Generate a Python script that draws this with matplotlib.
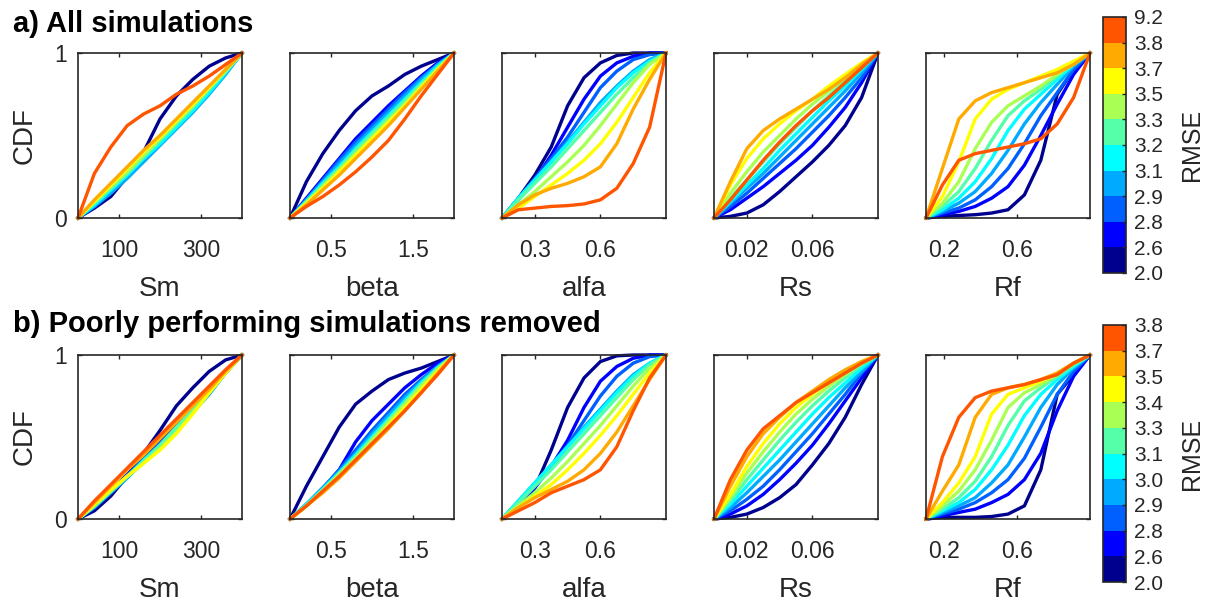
import matplotlib
matplotlib.use("Agg")
import matplotlib.pyplot as plt
from matplotlib.colors import ListedColormap, BoundaryNorm
import matplotlib.colorbar as mcolorbar

plt.rcParams["font.family"] = ["Liberation Sans", "DejaVu Sans"]

W, H = 1209, 601
DARK = (0.15, 0.15, 0.15)

# RMSE class colours (lowest -> highest)
colors = ["#00008F", "#0000FF", "#0060FF", "#00AAFF", "#00FFFF",
          "#55FFAA", "#AAFF55", "#FFFF00", "#FFAA00", "#FF5500"]

rmse_a = ["2.0", "2.6", "2.8", "2.9", "3.1", "3.2", "3.3", "3.5", "3.7", "3.8", "9.2"]
rmse_b = ["2.0", "2.6", "2.8", "2.9", "3.0", "3.1", "3.3", "3.4", "3.5", "3.7", "3.8"]

params = ["Sm", "beta", "alfa", "Rs", "Rf"]

# parameter values where the CDFs were read
x_sm = [0, 40, 80, 120, 160, 200, 240, 280, 320, 360, 400]
x_beta = [0, 0.2, 0.4, 0.6, 0.8, 1.0, 1.2, 1.4, 1.6, 1.8, 2.0]
x_alfa = [0.15, 0.225, 0.3, 0.375, 0.45, 0.525, 0.6, 0.675, 0.75, 0.825, 0.9]
x_rs = [0, 0.01, 0.02, 0.03, 0.04, 0.05, 0.06, 0.07, 0.08, 0.09, 0.1]
x_rf = [0.1, 0.19, 0.28, 0.37, 0.46, 0.55, 0.64, 0.73, 0.82, 0.91, 1.0]

xlims = [(0, 400), (0, 2), (0.15, 0.9), (0, 0.1), (0.1, 1.0)]
xticks = [[100, 300], [0.5, 1.5], [0.3, 0.6], [0.02, 0.06], [0.2, 0.6]]
xticklabels = [["100", "300"], ["0.5", "1.5"], ["0.3", "0.6"], ["0.02", "0.06"], ["0.2", "0.6"]]

# interior CDF values (ends are 0 and 1), one row per RMSE class
# a) all simulations
a_sm = [
    [0.06, 0.13, 0.25, 0.40, 0.60, 0.74, 0.84, 0.92, 0.97],
    [0.07, 0.16, 0.25, 0.35, 0.46, 0.57, 0.67, 0.78, 0.89],
    [0.08, 0.16, 0.26, 0.36, 0.46, 0.56, 0.66, 0.77, 0.88],
    [0.07, 0.15, 0.24, 0.34, 0.44, 0.54, 0.64, 0.75, 0.87],
    [0.08, 0.17, 0.26, 0.36, 0.45, 0.55, 0.65, 0.76, 0.88],
    [0.09, 0.18, 0.27, 0.37, 0.47, 0.57, 0.67, 0.78, 0.89],
    [0.10, 0.19, 0.28, 0.38, 0.48, 0.58, 0.68, 0.79, 0.89],
    [0.10, 0.20, 0.30, 0.40, 0.49, 0.59, 0.69, 0.79, 0.90],
    [0.11, 0.21, 0.31, 0.41, 0.50, 0.60, 0.70, 0.80, 0.90],
    [0.27, 0.43, 0.56, 0.63, 0.68, 0.75, 0.80, 0.86, 0.93],
]
a_beta = [
    [0.22, 0.39, 0.53, 0.65, 0.74, 0.80, 0.87, 0.92, 0.96],
    [0.12, 0.24, 0.36, 0.48, 0.58, 0.68, 0.77, 0.86, 0.94],
    [0.11, 0.23, 0.35, 0.46, 0.56, 0.66, 0.76, 0.85, 0.93],
    [0.11, 0.22, 0.33, 0.44, 0.54, 0.64, 0.74, 0.84, 0.93],
    [0.10, 0.21, 0.31, 0.42, 0.52, 0.62, 0.72, 0.82, 0.92],
    [0.10, 0.20, 0.30, 0.41, 0.51, 0.61, 0.71, 0.81, 0.91],
    [0.09, 0.19, 0.29, 0.39, 0.49, 0.59, 0.69, 0.80, 0.90],
    [0.09, 0.18, 0.28, 0.38, 0.48, 0.58, 0.68, 0.79, 0.90],
    [0.08, 0.17, 0.26, 0.36, 0.46, 0.56, 0.67, 0.78, 0.89],
    [0.07, 0.13, 0.20, 0.28, 0.37, 0.47, 0.60, 0.74, 0.87],
]
a_alfa = [
    [0.12, 0.26, 0.43, 0.68, 0.85, 0.94, 0.985, 1.0, 1.0],
    [0.11, 0.23, 0.38, 0.55, 0.72, 0.86, 0.94, 0.98, 1.0],
    [0.12, 0.24, 0.36, 0.49, 0.64, 0.79, 0.89, 0.96, 0.99],
    [0.12, 0.23, 0.34, 0.46, 0.58, 0.70, 0.80, 0.89, 0.96],
    [0.12, 0.23, 0.34, 0.45, 0.57, 0.68, 0.79, 0.88, 0.95],
    [0.11, 0.21, 0.31, 0.42, 0.53, 0.64, 0.75, 0.85, 0.94],
    [0.08, 0.16, 0.25, 0.34, 0.44, 0.56, 0.69, 0.82, 0.93],
    [0.06, 0.13, 0.20, 0.27, 0.35, 0.45, 0.58, 0.73, 0.88],
    [0.08, 0.14, 0.18, 0.21, 0.25, 0.31, 0.45, 0.66, 0.84],
    [0.05, 0.06, 0.07, 0.075, 0.085, 0.11, 0.18, 0.33, 0.55],
]
a_rs = [
    [0.01, 0.03, 0.08, 0.16, 0.25, 0.34, 0.44, 0.56, 0.73],
    [0.05, 0.12, 0.19, 0.27, 0.35, 0.44, 0.55, 0.67, 0.82],
    [0.07, 0.15, 0.24, 0.33, 0.42, 0.52, 0.62, 0.73, 0.85],
    [0.09, 0.18, 0.27, 0.37, 0.47, 0.57, 0.67, 0.77, 0.88],
    [0.10, 0.20, 0.30, 0.41, 0.51, 0.61, 0.71, 0.80, 0.90],
    [0.12, 0.23, 0.34, 0.45, 0.55, 0.65, 0.74, 0.83, 0.92],
    [0.15, 0.28, 0.40, 0.50, 0.60, 0.69, 0.77, 0.85, 0.93],
    [0.20, 0.36, 0.48, 0.57, 0.65, 0.72, 0.80, 0.87, 0.94],
    [0.22, 0.42, 0.53, 0.60, 0.66, 0.72, 0.78, 0.85, 0.93],
    [0.11, 0.23, 0.35, 0.46, 0.56, 0.65, 0.73, 0.82, 0.91],
]
a_rf = [
    [0.01, 0.015, 0.02, 0.03, 0.05, 0.14, 0.35, 0.75, 0.90],
    [0.02, 0.04, 0.07, 0.12, 0.19, 0.32, 0.50, 0.69, 0.87],
    [0.03, 0.06, 0.11, 0.19, 0.30, 0.45, 0.62, 0.76, 0.90],
    [0.04, 0.09, 0.16, 0.27, 0.41, 0.57, 0.70, 0.81, 0.92],
    [0.05, 0.12, 0.22, 0.36, 0.53, 0.66, 0.75, 0.84, 0.93],
    [0.07, 0.16, 0.30, 0.47, 0.62, 0.71, 0.78, 0.86, 0.94],
    [0.09, 0.22, 0.42, 0.58, 0.68, 0.74, 0.80, 0.87, 0.94],
    [0.13, 0.34, 0.60, 0.72, 0.78, 0.82, 0.86, 0.90, 0.95],
    [0.30, 0.60, 0.71, 0.76, 0.79, 0.82, 0.85, 0.88, 0.93],
    [0.20, 0.35, 0.39, 0.41, 0.43, 0.45, 0.48, 0.57, 0.73],
]

# b) poorly performing simulations removed
b_sm = [
    [0.05, 0.14, 0.26, 0.40, 0.54, 0.69, 0.80, 0.90, 0.97],
    [0.07, 0.17, 0.27, 0.37, 0.47, 0.57, 0.67, 0.78, 0.90],
    [0.08, 0.17, 0.26, 0.36, 0.46, 0.56, 0.66, 0.77, 0.89],
    [0.07, 0.16, 0.25, 0.35, 0.44, 0.54, 0.65, 0.76, 0.89],
    [0.08, 0.17, 0.26, 0.36, 0.45, 0.55, 0.66, 0.78, 0.90],
    [0.08, 0.17, 0.26, 0.35, 0.45, 0.56, 0.67, 0.78, 0.90],
    [0.08, 0.17, 0.26, 0.34, 0.43, 0.53, 0.65, 0.77, 0.89],
    [0.09, 0.18, 0.26, 0.34, 0.42, 0.52, 0.64, 0.77, 0.89],
    [0.10, 0.20, 0.30, 0.39, 0.49, 0.59, 0.69, 0.79, 0.90],
    [0.11, 0.21, 0.31, 0.41, 0.51, 0.61, 0.71, 0.81, 0.91],
]
b_beta = [
    [0.20, 0.38, 0.56, 0.70, 0.78, 0.85, 0.89, 0.92, 0.96],
    [0.08, 0.18, 0.30, 0.47, 0.60, 0.70, 0.80, 0.88, 0.95],
    [0.09, 0.19, 0.30, 0.42, 0.54, 0.65, 0.76, 0.85, 0.93],
    [0.09, 0.19, 0.29, 0.40, 0.52, 0.63, 0.74, 0.84, 0.93],
    [0.09, 0.18, 0.28, 0.39, 0.50, 0.61, 0.72, 0.83, 0.92],
    [0.08, 0.18, 0.28, 0.38, 0.49, 0.60, 0.71, 0.82, 0.92],
    [0.08, 0.17, 0.27, 0.37, 0.48, 0.59, 0.70, 0.81, 0.91],
    [0.08, 0.17, 0.26, 0.36, 0.46, 0.57, 0.68, 0.79, 0.90],
    [0.08, 0.16, 0.25, 0.35, 0.45, 0.55, 0.66, 0.77, 0.89],
    [0.08, 0.17, 0.26, 0.36, 0.46, 0.56, 0.66, 0.77, 0.88],
]
b_alfa = [
    [0.08, 0.19, 0.42, 0.68, 0.86, 0.96, 0.995, 1.0, 1.0],
    [0.09, 0.19, 0.32, 0.48, 0.68, 0.84, 0.93, 0.98, 1.0],
    [0.10, 0.20, 0.32, 0.45, 0.60, 0.75, 0.87, 0.95, 0.99],
    [0.11, 0.22, 0.33, 0.44, 0.56, 0.67, 0.78, 0.88, 0.95],
    [0.11, 0.22, 0.33, 0.44, 0.55, 0.66, 0.77, 0.87, 0.95],
    [0.10, 0.20, 0.30, 0.41, 0.52, 0.63, 0.74, 0.85, 0.94],
    [0.08, 0.16, 0.25, 0.35, 0.46, 0.57, 0.69, 0.81, 0.92],
    [0.07, 0.14, 0.21, 0.30, 0.40, 0.51, 0.63, 0.76, 0.89],
    [0.07, 0.13, 0.18, 0.23, 0.30, 0.40, 0.53, 0.69, 0.85],
    [0.05, 0.10, 0.16, 0.20, 0.24, 0.30, 0.44, 0.66, 0.86],
]
b_rs = [
    [0.01, 0.03, 0.07, 0.13, 0.21, 0.33, 0.46, 0.62, 0.82],
    [0.03, 0.08, 0.15, 0.24, 0.34, 0.45, 0.58, 0.72, 0.86],
    [0.05, 0.12, 0.20, 0.30, 0.41, 0.52, 0.64, 0.76, 0.89],
    [0.07, 0.16, 0.26, 0.36, 0.47, 0.58, 0.69, 0.80, 0.90],
    [0.09, 0.20, 0.31, 0.42, 0.53, 0.64, 0.74, 0.83, 0.92],
    [0.11, 0.24, 0.36, 0.48, 0.59, 0.69, 0.78, 0.86, 0.94],
    [0.13, 0.28, 0.41, 0.53, 0.64, 0.73, 0.81, 0.88, 0.95],
    [0.15, 0.32, 0.46, 0.58, 0.68, 0.76, 0.83, 0.90, 0.96],
    [0.20, 0.38, 0.52, 0.62, 0.71, 0.78, 0.85, 0.91, 0.96],
    [0.24, 0.42, 0.55, 0.63, 0.71, 0.77, 0.83, 0.89, 0.95],
]
b_rf = [
    [0.01, 0.01, 0.01, 0.015, 0.03, 0.08, 0.30, 0.76, 0.88],
    [0.02, 0.04, 0.06, 0.10, 0.15, 0.24, 0.40, 0.66, 0.87],
    [0.03, 0.06, 0.10, 0.16, 0.24, 0.37, 0.56, 0.76, 0.90],
    [0.04, 0.08, 0.13, 0.22, 0.33, 0.50, 0.68, 0.82, 0.92],
    [0.05, 0.10, 0.18, 0.30, 0.45, 0.63, 0.76, 0.85, 0.93],
    [0.06, 0.13, 0.23, 0.38, 0.57, 0.72, 0.80, 0.87, 0.94],
    [0.08, 0.17, 0.30, 0.48, 0.68, 0.77, 0.82, 0.88, 0.95],
    [0.10, 0.22, 0.38, 0.64, 0.76, 0.80, 0.84, 0.89, 0.95],
    [0.17, 0.33, 0.62, 0.76, 0.80, 0.82, 0.85, 0.89, 0.95],
    [0.38, 0.62, 0.74, 0.78, 0.80, 0.82, 0.85, 0.88, 0.95],
]

x_grids = [x_sm, x_beta, x_alfa, x_rs, x_rf]
rows = [
    ("a) All simulations", [a_sm, a_beta, a_alfa, a_rs, a_rf], rmse_a, 53, 218, 17, 273, 32),
    ("b) Poorly performing simulations removed", [b_sm, b_beta, b_alfa, b_rs, b_rf], rmse_b, 355, 519, 325, 582, 332),
]
col_left = [78, 290, 502, 714, 926]
col_w = 164


def px_box(x0, y_top, w, h):
    return [x0 / W, 1 - (y_top + h) / H, w / W, h / H]


fig = plt.figure(figsize=(W / 100, H / 100), dpi=100)
cmap = ListedColormap(colors)
norm = BoundaryNorm(list(range(11)), cmap.N)

for title, panels, rmse_labels, top, bottom, cb_top, cb_bottom, title_y in rows:
    fig.text(13 / W, 1 - title_y / H, title, fontsize=21, fontweight="bold",
             ha="left", va="baseline", color="black")
    for j, cdfs in enumerate(panels):
        ax = fig.add_axes(px_box(col_left[j], top, col_w, bottom - top))
        xs = x_grids[j]
        for k, vals in enumerate(cdfs):
            ax.plot(xs, [0] + vals + [1], color=colors[k], lw=2.4, clip_on=False)
        ax.set_xlim(*xlims[j])
        ax.set_ylim(0, 1)
        ax.set_xticks(xticks[j])
        ax.set_xticklabels(xticklabels[j])
        ax.set_yticks([0, 1])
        ax.tick_params(direction="in", top=True, right=True, length=3, width=1,
                       colors=DARK, labelsize=16.5, pad=15)
        ax.tick_params(axis="y", pad=8)
        if j == 0:
            ax.set_yticklabels(["0", "1"])
            ax.set_ylabel("CDF", fontsize=20, color=DARK, labelpad=12)
        else:
            ax.set_yticklabels([])
        ax.set_xlabel(params[j], fontsize=20, color=DARK, labelpad=10)
        for sp in ax.spines.values():
            sp.set_color(DARK)
            sp.set_linewidth(1.2)

    cax = fig.add_axes(px_box(1103, cb_top, 23, cb_bottom - cb_top))
    cb = mcolorbar.ColorbarBase(cax, cmap=cmap, norm=norm, boundaries=list(range(11)),
                                ticks=list(range(11)))
    cb.set_ticklabels(rmse_labels)
    cb.outline.set_edgecolor(DARK)
    cb.outline.set_linewidth(1.2)
    cax.tick_params(direction="in", length=3, width=1, colors=DARK, labelsize=15, pad=6)
    cb.set_label("RMSE", fontsize=18, color=DARK, labelpad=12)

fig.savefig("out.png", dpi=100)
